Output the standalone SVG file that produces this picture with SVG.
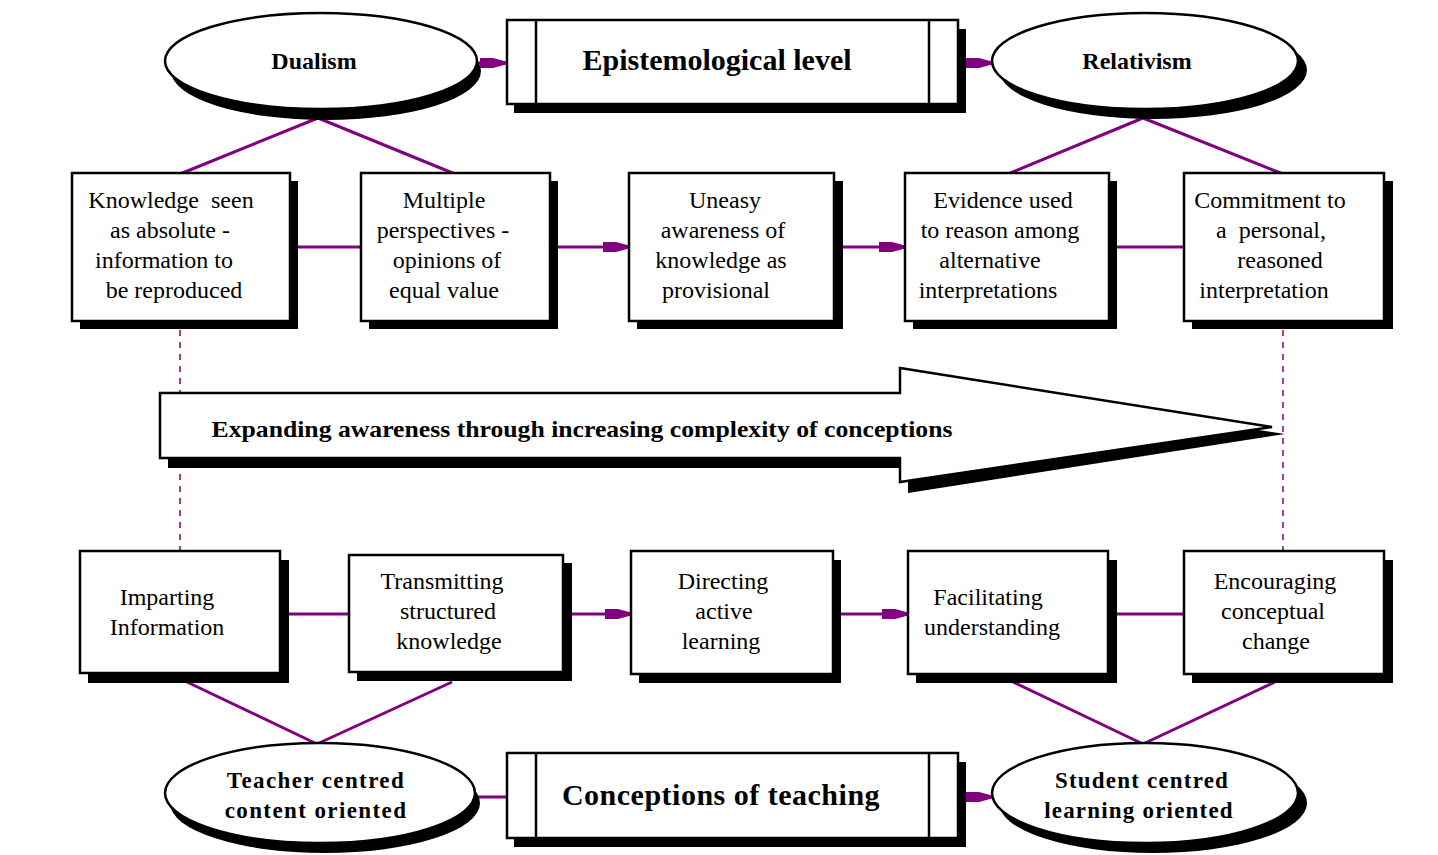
<svg xmlns="http://www.w3.org/2000/svg" width="1438" height="855" viewBox="0 0 1438 855">
<style>
.bg{fill:#ffffff}
.sh{fill:#000000;stroke:none}
.box{fill:#ffffff;stroke:#000000;stroke-width:2.5}
.con{stroke:#800080;stroke-width:3;fill:none}
.dash{stroke:#800080;stroke-width:1.5;fill:none;stroke-dasharray:6 6}
.t{font-family:"Liberation Serif","Times New Roman",serif;font-size:24px;fill:#000;text-anchor:middle;white-space:pre}
.b{font-family:"Liberation Serif","Times New Roman",serif;font-size:23px;font-weight:bold;fill:#000;text-anchor:middle}
.e{font-size:24px}
.big{font-family:"Liberation Serif","Times New Roman",serif;font-size:30px;font-weight:bold;fill:#000;text-anchor:middle}
</style>
<defs>
<marker id="arr" viewBox="-26 -6 26 12" refX="0" refY="0" markerWidth="26" markerHeight="12" markerUnits="userSpaceOnUse" orient="auto">
<path d="M-26,-5 L-13,-5 L0,-1.5 L0,1.5 L-13,5 L-26,5 Z" fill="#800080"/>
</marker>
</defs>
<rect class="bg" x="0" y="0" width="1438" height="855"/>

<g id="connectors">
<line class="con" x1="478" y1="63" x2="506" y2="63" marker-end="url(#arr)"/>
<line class="con" x1="966" y1="63" x2="992" y2="63" marker-end="url(#arr)"/>
<line class="con" x1="318" y1="118" x2="180" y2="174"/>
<line class="con" x1="318" y1="118" x2="455" y2="174"/>
<line class="con" x1="1143" y1="118" x2="1008" y2="174"/>
<line class="con" x1="1143" y1="118" x2="1283" y2="174"/>
<line class="con" x1="290" y1="247" x2="361" y2="247"/>
<line class="con" x1="558" y1="247" x2="629" y2="247" marker-end="url(#arr)"/>
<line class="con" x1="843" y1="247" x2="905" y2="247" marker-end="url(#arr)"/>
<line class="con" x1="1117" y1="247" x2="1184" y2="247"/>
<line class="dash" x1="180" y1="330" x2="180" y2="551"/>
<line class="dash" x1="1283" y1="330" x2="1283" y2="551"/>
<line class="con" x1="280" y1="614" x2="349" y2="614"/>
<line class="con" x1="572" y1="614" x2="631" y2="614" marker-end="url(#arr)"/>
<line class="con" x1="841" y1="614" x2="908" y2="614" marker-end="url(#arr)"/>
<line class="con" x1="1117" y1="614" x2="1184" y2="614"/>
<line class="con" x1="187" y1="682" x2="317" y2="744"/>
<line class="con" x1="452" y1="682" x2="317" y2="744"/>
<line class="con" x1="1013" y1="682" x2="1143" y2="744"/>
<line class="con" x1="1275" y1="682" x2="1143" y2="744"/>
<line class="con" x1="478" y1="797" x2="506" y2="797"/>
<line class="con" x1="966" y1="797" x2="992" y2="797" marker-end="url(#arr)"/>
</g>

<g id="dualism">
<ellipse class="sh" cx="326" cy="71" rx="155" ry="49"/>
<ellipse class="box" cx="321" cy="61" rx="156" ry="48"/>
<text class="b e" x="314" y="69">Dualism</text>
</g>

<g id="epistemological">
<rect class="sh" x="514" y="29" width="452" height="84"/>
<rect class="box" x="507" y="20" width="451" height="84"/>
<line x1="536" y1="20" x2="536" y2="104" stroke="#000" stroke-width="2.5"/>
<line x1="929" y1="20" x2="929" y2="104" stroke="#000" stroke-width="2.5"/>
<text class="big" x="717" y="70">Epistemological level</text>
</g>

<g id="relativism">
<ellipse class="sh" cx="1153" cy="70" rx="154" ry="49"/>
<ellipse class="box" cx="1145" cy="61" rx="153" ry="48"/>
<text class="b e" x="1137" y="69">Relativism</text>
</g>

<g id="k1">
<rect class="sh" x="80" y="181" width="218" height="148"/>
<rect class="box" x="72" y="173" width="218" height="148"/>
<text class="t" x="171" y="208" xml:space="preserve">Knowledge  seen</text>
<text class="t" x="170" y="238">as absolute -</text>
<text class="t" x="164" y="268">information to</text>
<text class="t" x="174" y="298">be reproduced</text>
</g>

<g id="k2">
<rect class="sh" x="369" y="181" width="189" height="148"/>
<rect class="box" x="361" y="173" width="189" height="148"/>
<text class="t" x="444" y="208">Multiple</text>
<text class="t" x="443" y="238">perspectives -</text>
<text class="t" x="447" y="268">opinions of</text>
<text class="t" x="444" y="298">equal value</text>
</g>

<g id="k3">
<rect class="sh" x="637" y="181" width="206" height="148"/>
<rect class="box" x="629" y="173" width="205" height="148"/>
<text class="t" x="725" y="208">Uneasy</text>
<text class="t" x="723" y="238">awareness of</text>
<text class="t" x="721" y="268">knowledge as</text>
<text class="t" x="716" y="298">provisional</text>
</g>

<g id="k4">
<rect class="sh" x="913" y="181" width="204" height="148"/>
<rect class="box" x="905" y="173" width="204" height="148"/>
<text class="t" x="1003" y="208">Evidence used</text>
<text class="t" x="1000" y="238">to reason among</text>
<text class="t" x="990" y="268">alternative</text>
<text class="t" x="988" y="298">interpretations</text>
</g>

<g id="k5">
<rect class="sh" x="1192" y="181" width="201" height="148"/>
<rect class="box" x="1184" y="173" width="200" height="148"/>
<text class="t" x="1270" y="208">Commitment to</text>
<text class="t" x="1271" y="238" xml:space="preserve">a  personal,</text>
<text class="t" x="1280" y="268">reasoned</text>
<text class="t" x="1264" y="298">interpretation</text>
</g>

<g id="expanding">
<polygon class="sh" points="168,403 908,403 908,378 1285,434 908,493 908,468 168,468"/>
<polygon points="160,393 900,393 900,368 1272,427 900,482 900,458 160,458" fill="#fff" stroke="#000" stroke-width="2.5" stroke-linejoin="miter"/>
<text class="b" x="582" y="437" textLength="741" lengthAdjust="spacingAndGlyphs">Expanding awareness through increasing complexity of conceptions</text>
</g>

<g id="c1">
<rect class="sh" x="88" y="560" width="201" height="123"/>
<rect class="box" x="80" y="551" width="200" height="122"/>
<text class="t" x="167" y="605">Imparting</text>
<text class="t" x="167" y="635">Information</text>
</g>

<g id="c2">
<rect class="sh" x="357" y="563" width="215" height="118"/>
<rect class="box" x="349" y="555" width="214" height="117"/>
<text class="t" x="442" y="589">Transmitting</text>
<text class="t" x="448" y="619">structured</text>
<text class="t" x="449" y="649">knowledge</text>
</g>

<g id="c3">
<rect class="sh" x="639" y="560" width="202" height="123"/>
<rect class="box" x="631" y="551" width="202" height="123"/>
<text class="t" x="723" y="589">Directing</text>
<text class="t" x="724" y="619">active</text>
<text class="t" x="721" y="649">learning</text>
</g>

<g id="c4">
<rect class="sh" x="916" y="560" width="201" height="123"/>
<rect class="box" x="908" y="551" width="200" height="123"/>
<text class="t" x="988" y="605">Facilitating</text>
<text class="t" x="992" y="635">understanding</text>
</g>

<g id="c5">
<rect class="sh" x="1192" y="560" width="201" height="123"/>
<rect class="box" x="1184" y="551" width="200" height="123"/>
<text class="t" x="1275" y="589">Encouraging</text>
<text class="t" x="1273" y="619">conceptual</text>
<text class="t" x="1276" y="649">change</text>
</g>

<g id="teacher">
<ellipse class="sh" cx="325" cy="803" rx="155" ry="50"/>
<ellipse class="box" cx="320" cy="793" rx="155" ry="50"/>
<text class="b" x="316" y="788" letter-spacing="1.4">Teacher centred</text>
<text class="b" x="316" y="818" letter-spacing="1.4">content oriented</text>
</g>

<g id="conceptions">
<rect class="sh" x="514" y="762" width="452" height="85"/>
<rect class="box" x="507" y="753" width="451" height="85"/>
<line x1="536" y1="753" x2="536" y2="838" stroke="#000" stroke-width="2.5"/>
<line x1="929" y1="753" x2="929" y2="838" stroke="#000" stroke-width="2.5"/>
<text class="big" x="721" y="805" letter-spacing="0.5">Conceptions of teaching</text>
</g>

<g id="student">
<ellipse class="sh" cx="1153" cy="803" rx="154" ry="50"/>
<ellipse class="box" cx="1145" cy="793" rx="153" ry="50"/>
<text class="b" x="1142" y="788" letter-spacing="1.2">Student centred</text>
<text class="b" x="1139" y="818" letter-spacing="1.2">learning oriented</text>
</g>
</svg>
